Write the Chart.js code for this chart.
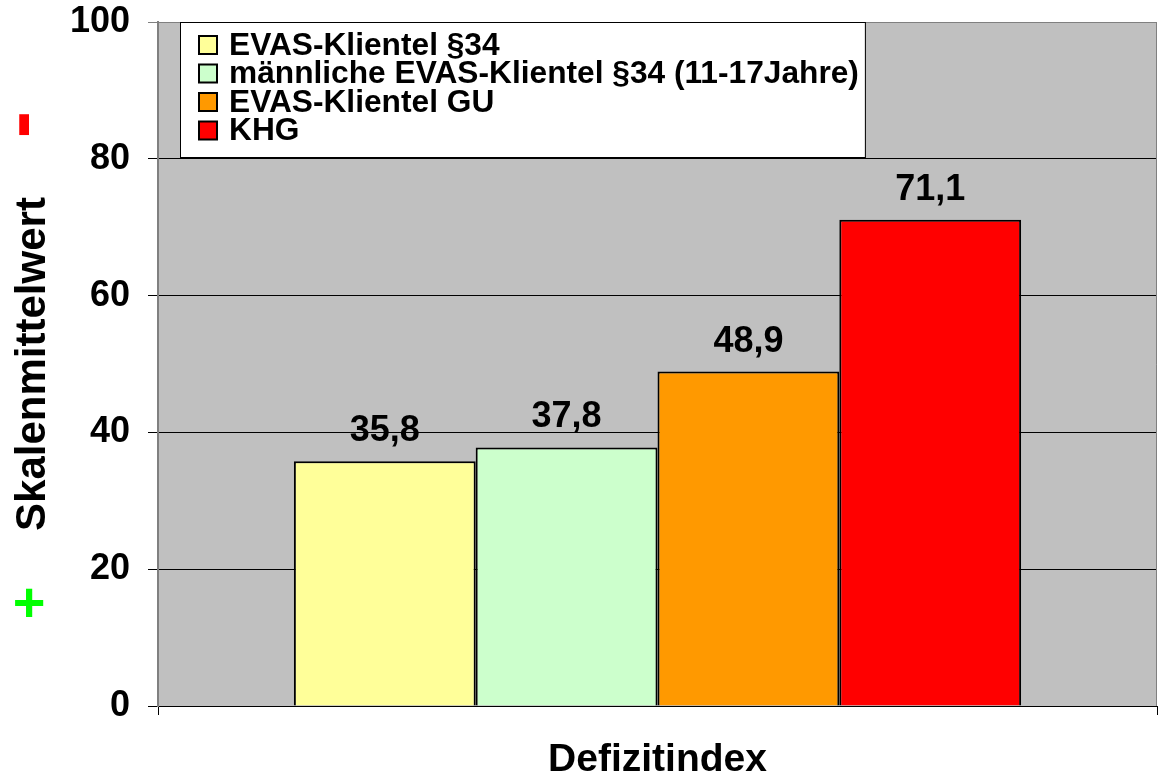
<!DOCTYPE html>
<html>
<head>
<meta charset="utf-8">
<script src="https://cdn.jsdelivr.net/npm/chart.js@4"></script>
<style>
html, body { margin: 0; padding: 0; background: #fff; }
</style>
</head>
<body>
<canvas id="chart" width="1159" height="778"></canvas>
<script>
const categories = ['Defizitindex'];
const seriesNames = ['EVAS-Klientel §34', 'männliche EVAS-Klientel §34 (11-17Jahre)', 'EVAS-Klientel GU', 'KHG'];
const seriesValues = [[35.8], [37.8], [48.9], [71.1]];
const seriesColors = ['#ffff99', '#ccffcc', '#ff9900', '#ff0000'];
const yTicks = [0, 20, 40, 60, 80, 100];
const yTitle = 'Skalenmittelwert';

const FONT = "'Liberation Sans', Arial, sans-serif";

// Hintergrund, Rahmen, Legende, Werte, +/- Markierungen
const excelLook = {
    id: 'excelLook',
    beforeDraw(chart) {
        const { ctx, chartArea: a } = chart;
        ctx.save();
        ctx.fillStyle = '#c0c0c0';
        ctx.fillRect(a.left, a.top, a.right - a.left, a.bottom - a.top);
        ctx.restore();
    },
    afterDatasetsDraw(chart) {
        const { ctx, chartArea: a } = chart;
        const y = chart.scales.y;
        ctx.save();
        // Rahmen oben/rechts
        ctx.strokeStyle = '#808080';
        ctx.lineWidth = 1;
        ctx.beginPath();
        ctx.moveTo(a.left, a.top + 0.5);
        ctx.lineTo(a.right - 0.5, a.top + 0.5);
        ctx.lineTo(a.right - 0.5, a.bottom);
        ctx.stroke();

        // Werte ueber den Balken
        ctx.fillStyle = '#000';
        ctx.font = 'bold 36px ' + FONT;
        ctx.textAlign = 'center';
        ctx.textBaseline = 'alphabetic';
        chart.data.datasets.forEach((ds, i) => {
            chart.getDatasetMeta(i).data.forEach((bar, j) => {
                const txt = ds.data[j].toFixed(1).replace('.', ',');
                ctx.fillText(txt, bar.x, bar.y - 20);
            });
        });

        // Legende
        ctx.font = 'bold 31.7px ' + FONT;
        let maxW = 0;
        seriesNames.forEach(n => { maxW = Math.max(maxW, ctx.measureText(n).width); });
        const bx = a.left + 22, by = a.top;
        const textX = bx + 49;
        const bw = textX - bx + maxW + 6;
        const bh = 135;
        ctx.fillStyle = '#fff';
        ctx.fillRect(bx, by, bw, bh);
        ctx.strokeStyle = '#000';
        ctx.lineWidth = 1;
        ctx.strokeRect(bx + 0.5, by + 0.5, bw, bh);
        ctx.textAlign = 'left';
        ctx.textBaseline = 'middle';
        seriesNames.forEach((n, i) => {
            const cy = by + 23 + i * 28.5;
            ctx.fillStyle = seriesColors[i];
            ctx.fillRect(bx + 19, cy - 9, 18, 18);
            ctx.strokeStyle = '#000';
            ctx.lineWidth = 2;
            ctx.strokeRect(bx + 19, cy - 9, 18, 18);
            ctx.fillStyle = '#000';
            ctx.fillText(n, textX, cy + 1);
        });

        // + / - neben der Achsenbeschriftung
        ctx.textAlign = 'center';
        ctx.textBaseline = 'middle';
        ctx.save();
        ctx.font = 'bold 82px ' + FONT;
        ctx.translate(20, y.getPixelForValue(85));
        ctx.rotate(-Math.PI / 2);
        ctx.fillStyle = '#ff0000';
        ctx.fillText('-', 0, 2);
        ctx.restore();
        ctx.font = 'bold 56px ' + FONT;
        ctx.fillStyle = '#00ff00';
        ctx.fillText('+', 29, y.getPixelForValue(15) + 2);
        ctx.restore();
    }
};

new Chart(document.getElementById('chart'), {
    type: 'bar',
    data: {
        labels: categories,
        datasets: seriesNames.map((name, i) => ({
            label: name,
            data: seriesValues[i],
            backgroundColor: seriesColors[i],
            borderColor: '#000',
            borderWidth: 2,
            categoryPercentage: 0.728,
            barPercentage: 1.0
        }))
    },
    options: {
        responsive: false,
        animation: false,
        layout: { padding: { top: 22, right: 2, left: 0, bottom: 0 } },
        plugins: {
            legend: { display: false },
            tooltip: { enabled: false }
        },
        scales: {
            x: {
                offset: true,
                grid: {
                    display: true,
                    offset: true,
                    drawOnChartArea: false,
                    tickLength: 9,
                    color: '#000'
                },
                border: { display: true, color: '#000', width: 1 },
                ticks: {
                    color: '#000',
                    padding: 22,
                    font: { family: FONT, size: 39, weight: 'bold' }
                },
                afterFit(scale) {
                    scale.height = 72;
                    scale.paddingLeft = 0;
                    scale.paddingRight = 0;
                }
            },
            y: {
                min: 0,
                max: 100,
                afterBuildTicks(scale) { scale.ticks = yTicks.map(v => ({ value: v })); },
                grid: {
                    color: ctx => (ctx.tick && ctx.tick.value === 100 ? '#808080' : '#000'),
                    tickLength: 10,
                    lineWidth: 1
                },
                border: { display: true, color: '#808080', width: 2 },
                ticks: {
                    color: '#000',
                    padding: 18,
                    font: { family: FONT, size: 36, weight: 'bold' }
                },
                title: {
                    display: true,
                    text: yTitle,
                    color: '#000',
                    padding: { top: 8, bottom: 0 },
                    font: { family: FONT, size: 42, weight: 'bold' }
                },
                afterFit(scale) {
                    scale.width = 158;
                    scale.paddingTop = 0;
                    scale.paddingBottom = 0;
                }
            }
        }
    },
    plugins: [excelLook]
});
</script>
</body>
</html>
